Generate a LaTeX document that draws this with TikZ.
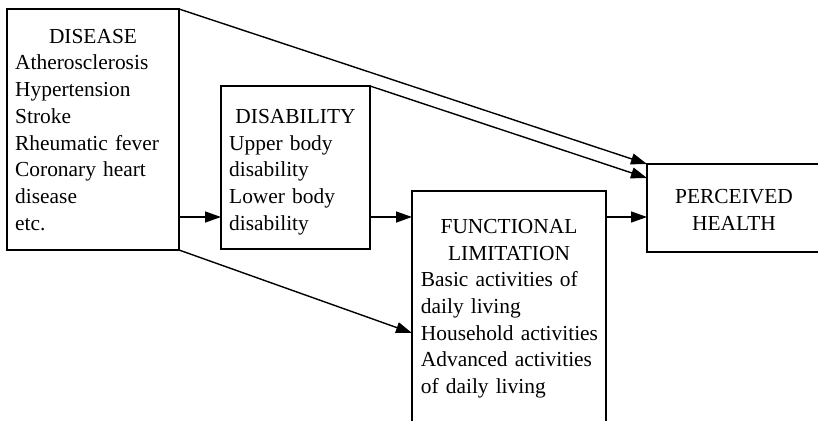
\documentclass[tikz,border=0pt]{standalone}
\usepackage{fontspec}
\setmainfont{Liberation Serif}
\usetikzlibrary{arrows.meta}
\begin{document}
\begin{tikzpicture}[x=1pt,y=-1pt,
  box/.style={draw,line width=1.4pt,rectangle,inner sep=0pt,outer sep=0pt},
  head/.style={anchor=base,inner sep=0pt,font=\fontsize{21.4}{26.67}\selectfont},
  body/.style={anchor=base west,inner sep=0pt,align=left,text width=#1,font=\fontsize{21.4}{26.67}\selectfont},
  arr/.style={line width=1.4pt,-{Triangle[length=16pt,width=11pt]}}]
\clip (0,0) rectangle (818,420);
\useasboundingbox (0,0) rectangle (818,420);
% boxes
\node[box,minimum width=172pt,minimum height=241pt] (dis) at (93,129.5) {};
\node[box,minimum width=149pt,minimum height=163pt] (dsb) at (295.5,167.5) {};
\node[box,minimum width=194pt,minimum height=249pt] (fun) at (509,315.5) {};
\node[box,minimum width=174pt,minimum height=88pt] (per) at (734,208) {};
% texts
\node[head] (h1) at (93,43.3) {DISEASE};
\node[body=165pt] (b1) at (15,70) {Atherosclerosis\\Hypertension\\Stroke\\Rheumatic fever\\Coronary heart\\disease\\etc.};
\node[head] (h2) at (295.5,123.3) {DISABILITY};
\node[body=140pt] (b2) at (229,150) {Upper body\\disability\\Lower body\\disability};
\node[head,align=center] (h3) at (509,260) {FUNCTIONAL\\LIMITATION};
\node[body=185pt] (b3) at (420.7,286.7) {Basic activities of\\daily living\\Household activities\\Advanced activities\\of daily living};
\node[head,align=center] (h4) at (734,230) {PERCEIVED\\HEALTH};
% connectors
\coordinate (row) at (0,217);
\coordinate (low) at (0,333);
\coordinate (mid) at (0,178);
\draw[arr] (dis.east |- row) -- (dsb.west |- row);
\draw[arr] (dsb.east |- row) -- (fun.west |- row);
\draw[arr] (fun.east |- row) -- (per.west |- row);
\draw[arr] (dis.north east) -- (per.north west);
\draw[arr] (dsb.north east) -- (per.west |- mid);
\draw[arr] (dis.south east) -- (fun.west |- low);
\end{tikzpicture}
\end{document}
